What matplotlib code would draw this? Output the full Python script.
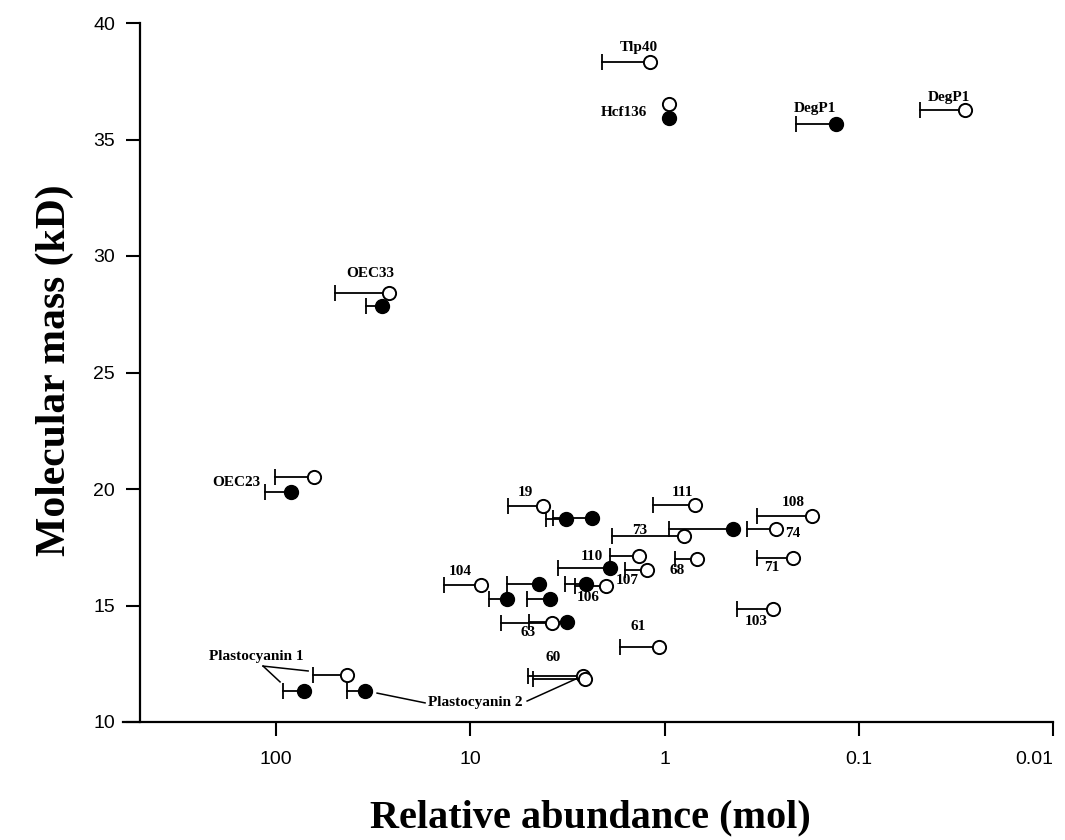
import numpy as np
import matplotlib
matplotlib.use("Agg")
import matplotlib.pyplot as plt

# open circles: abundance, mass, end of the bar (nan = no bar)
open_x = [1.19, 0.95, 0.0284, 26.2, 63.7, 4.22, 0.697, 0.794, 0.267, 0.174, 0.218,
          0.681, 0.276, 1.35, 1.23, 8.80, 2.00, 3.79, 1.07, 2.63, 2.56, 43.1]
open_y = [38.33, 36.52, 36.27, 28.41, 20.52, 19.27, 19.31, 17.98, 18.28, 18.84, 17.04,
          17.00, 14.85, 17.12, 16.52, 15.88, 15.84, 14.25, 13.22, 11.97, 11.85, 12.02]
open_bar = [2.10, np.nan, 0.0484, 49.7, 101, 6.39, 1.15, 1.86, 0.376, 0.334, 0.334,
            0.883, 0.424, 1.91, 1.60, 13.6, 2.89, 6.95, 1.69, 5.04, 4.75, 64.5]

# filled circles
filled_x = [0.95, 0.131, 28.5, 83.7, 3.21, 2.36, 0.444, 1.91, 4.43, 2.54, 6.47, 3.88, 3.18, 71.8, 34.8]
filled_y = [35.92, 35.67, 27.85, 19.87, 18.71, 18.76, 18.28, 16.61, 15.92, 15.92, 15.28, 15.28, 14.29, 11.33, 11.33]
filled_bar = [np.nan, 0.210, 34.4, 114, 4.07, 3.75, 0.95, 3.53, 6.47, 3.25, 8.00, 5.10, 4.99, 92.0, 43.1]

# spot labels
label_text = ["Tlp40", "Hcf136", "DegP1", "DegP1", "OEC33", "OEC23", "19", "111", "73", "74",
              "108", "71", "68", "103", "110", "107", "104", "106", "63", "61", "60",
              "Plastocyanin 1", "Plastocyanin 2"]
label_x = [1.35, 1.62, 0.168, 0.0343, 32.8, 161, 5.22, 0.81, 1.34, 0.218,
           0.218, 0.28, 0.86, 0.338, 2.36, 1.56, 11.3, 2.48, 5.04, 1.37, 3.75,
           127, 9.46]
label_y = [38.93, 36.14, 36.35, 36.82, 29.23, 20.26, 19.87, 19.87, 18.24, 18.07,
           19.40, 16.61, 16.52, 14.33, 17.12, 16.09, 16.44, 15.36, 13.82, 14.08, 12.75,
           12.83, 10.82]

# leader lines for the plastocyanin labels
leaders = [((116.7, 12.40), (95.4, 11.72)),
           ((116.7, 12.40), (68.4, 12.19)),
           ((30.2, 11.24), (17.1, 10.82)),
           ((5.10, 10.90), (2.72, 11.93))]

xtick_vals = [100, 10, 1, 0.1, 0.01]
xtick_labels = ['100', '10', '1', '0.1', '0.01']
ytick_vals = [10, 15, 20, 25, 30, 35, 40]

plt.rcParams['font.family'] = ['Liberation Sans', 'DejaVu Sans']

fig = plt.figure(figsize=(10.65, 8.4), dpi=100)
ax = fig.add_axes([123 / 1065, 1 - 722 / 840, 930 / 1065, 699 / 840])

ax.set_xscale('log')
ax.set_xlim(614, 0.01)
ax.set_ylim(10, 40)

for x, y, b in zip(open_x, open_y, open_bar):
    if not np.isnan(b):
        ax.plot([b, x], [y, y], color='black', lw=1.3, zorder=2)
        ax.plot(b, y, marker='|', ms=11, mew=1.3, color='black', zorder=2)
for x, y, b in zip(filled_x, filled_y, filled_bar):
    if not np.isnan(b):
        ax.plot([b, x], [y, y], color='black', lw=1.3, zorder=2)
        ax.plot(b, y, marker='|', ms=11, mew=1.3, color='black', zorder=2)

ax.plot(open_x, open_y, 'o', ms=9.5, mfc='white', mec='black', mew=1.4, ls='none', zorder=4)
ax.plot(filled_x, filled_y, 'o', ms=10, mfc='black', mec='black', ls='none', zorder=4)

for (x0, y0), (x1, y1) in leaders:
    ax.plot([x0, x1], [y0, y1], color='black', lw=1.1, zorder=1)

for t, x, y in zip(label_text, label_x, label_y):
    ax.text(x, y, t, ha='center', va='center', fontsize=11, fontweight='bold',
            family='Liberation Serif', zorder=5)

ax.spines['top'].set_visible(False)
ax.spines['right'].set_visible(False)
ax.spines['left'].set_position(('axes', 17 / 930))
ax.spines['left'].set_linewidth(1.6)
ax.spines['bottom'].set_linewidth(1.6)

ax.set_xticks(xtick_vals)
ax.set_xticklabels(xtick_labels)
ax.xaxis.set_minor_locator(matplotlib.ticker.NullLocator())
ax.set_yticks(ytick_vals)
ax.tick_params(axis='both', direction='out', length=10, width=1.5, labelsize=14)
ax.tick_params(axis='x', pad=11)
ax.tick_params(axis='y', pad=8)
# last label sits flush with the right edge
ax.get_xticklabels()[-1].set_horizontalalignment('right')

fig.text(590 / 1065, 1 - 818 / 840, 'Relative abundance (mol)', ha='center', va='center',
         fontsize=29, fontweight='bold', family='Liberation Serif')
fig.text(55 / 1065, 1 - 370 / 840, 'Molecular mass (kD)', ha='center', va='center',
         rotation=90, fontsize=30, fontweight='bold', family='Liberation Serif')

fig.savefig('out.png', dpi=100)
